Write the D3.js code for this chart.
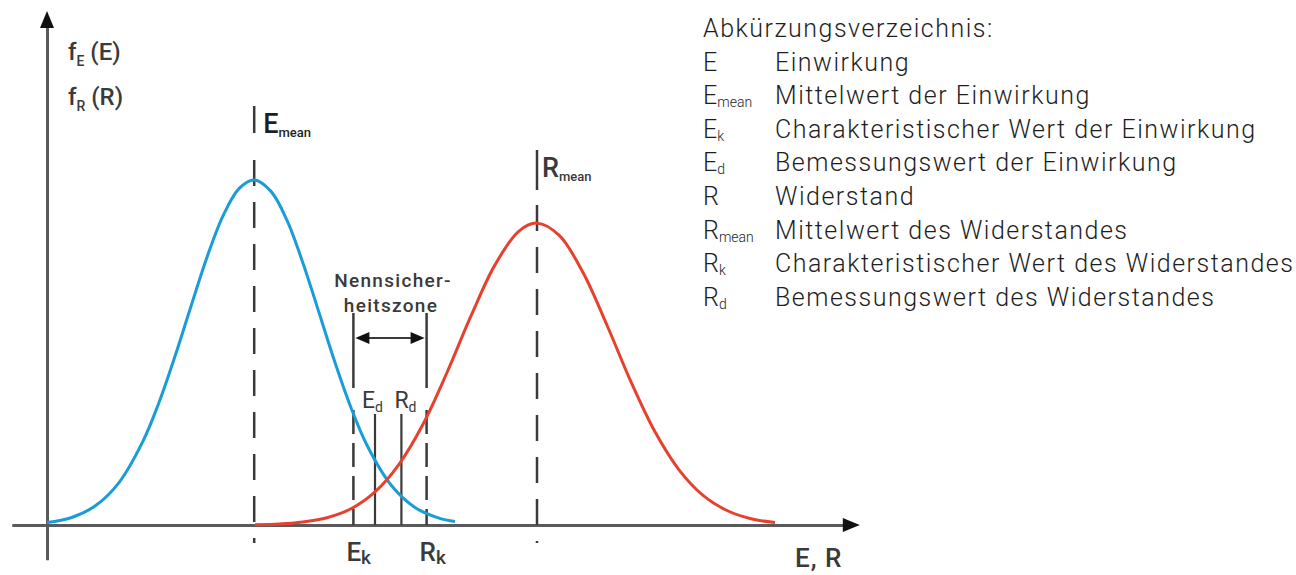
<!DOCTYPE html>
<html>
<head>
<meta charset="utf-8">
<script src="https://cdn.jsdelivr.net/npm/d3@7"></script>
<style>
  body { margin: 0; background: #fff; }
  svg { display: block; font-family: Roboto, "DejaVu Sans", sans-serif; }
</style>
</head>
<body>
<svg id="chart" width="1296" height="575"></svg>
<script>
// curve points (x in E,R units, y = density relative to E peak)
var blueX = [0, 3, 6, 9, 12, 14, 16, 18, 20, 22, 24, 25.9, 28, 30, 32, 34, 36, 38, 40, 43, 46, 49, 51];
var blueY = [0.007, 0.021, 0.055, 0.123, 0.243, 0.355, 0.489, 0.634, 0.776, 0.896, 0.975, 1.0, 0.967, 0.883, 0.759, 0.616, 0.471, 0.340, 0.231, 0.116, 0.051, 0.020, 0.010];

var redX = [26, 29, 32, 35, 38, 41, 44, 47, 50, 53, 56, 59, 61.25, 64, 67, 70, 73, 76, 79, 82, 85, 88, 91];
var redY = [0.001, 0.003, 0.009, 0.021, 0.047, 0.096, 0.176, 0.292, 0.442, 0.606, 0.754, 0.852, 0.875, 0.840, 0.732, 0.579, 0.415, 0.270, 0.160, 0.086, 0.042, 0.018, 0.007];

// marker positions
var meanX = [25.9, 61.25];      // E_mean, R_mean
var charX = [38.3, 47.45];      // E_k, R_k
var designX = [41.0, 44.3];     // E_d, R_d

// legend
var legSym = ["E", "E", "E", "E", "R", "R", "R", "R"];
var legSub = ["", "mean", "k", "d", "", "mean", "k", "d"];
var legText = ["Einwirkung", "Mittelwert der Einwirkung", "Charakteristischer Wert der Einwirkung",
               "Bemessungswert der Einwirkung", "Widerstand", "Mittelwert des Widerstandes",
               "Charakteristischer Wert des Widerstandes", "Bemessungswert des Widerstandes"];

var BLUE = "#1a9cd8";
var RED = "#e6412f";
var GREY = "#5a5a5a";
var DARK = "#3a3a3a";
var TXT = "#1e1e1e";

var svg = d3.select("#chart");

var x = d3.scaleLinear().domain([0, 100]).range([47, 847]);
var y = d3.scaleLinear().domain([0, 1]).range([525, 180]);

// axes (no ticks, just the lines)
var xAxisScale = x.copy().domain([-4.4, 100.4]).range([x(-4.4), x(100.4)]);
var yAxisScale = y.copy().domain([-0.101, 1.45]).range([y(-0.101), y(1.45)]);

svg.append("g")
    .attr("transform", "translate(0," + y(0) + ")")
    .style("color", GREY)
    .style("stroke-width", 3)
    .call(d3.axisBottom(xAxisScale).tickValues([]).tickSizeOuter(0));

svg.append("g")
    .attr("transform", "translate(" + x(0) + ",0)")
    .style("color", GREY)
    .style("stroke-width", 3)
    .call(d3.axisLeft(yAxisScale).tickValues([]).tickSizeOuter(0));

// arrow heads
var xEnd = x(101.6), yTop = y(1.49);
svg.append("path")
    .attr("d", "M" + xEnd + "," + y(0) + " L" + (xEnd - 17) + "," + (y(0) - 7) + " L" + (xEnd - 17) + "," + (y(0) + 7) + "Z")
    .attr("fill", "#111");
svg.append("path")
    .attr("d", "M" + x(0) + "," + yTop + " L" + (x(0) - 7) + "," + (yTop + 17) + " L" + (x(0) + 7) + "," + (yTop + 17) + "Z")
    .attr("fill", "#111");

// mean markers: short solid tick by the label, then dashed line down past the axis
var meanTop = [106, 150], meanTickEnd = [133, 190], meanDashStart = [160, 205];
meanX.forEach(function(v, i) {
    svg.append("line")
        .attr("x1", x(v)).attr("x2", x(v))
        .attr("y1", meanTop[i]).attr("y2", meanTickEnd[i])
        .attr("stroke", DARK).attr("stroke-width", 2.5);
    svg.append("line")
        .attr("x1", x(v)).attr("x2", x(v))
        .attr("y1", meanDashStart[i]).attr("y2", 543)
        .attr("stroke", DARK).attr("stroke-width", 2.5)
        .attr("stroke-dasharray", "26,16");
});

// characteristic values: solid bracket part, then dashed to axis
charX.forEach(function(v) {
    svg.append("line")
        .attr("x1", x(v)).attr("x2", x(v))
        .attr("y1", 313).attr("y2", 388)
        .attr("stroke", DARK).attr("stroke-width", 2.5);
    svg.append("line")
        .attr("x1", x(v)).attr("x2", x(v))
        .attr("y1", 410).attr("y2", y(0))
        .attr("stroke", DARK).attr("stroke-width", 2.5)
        .attr("stroke-dasharray", "24,9");
});

// design values: solid lines
designX.forEach(function(v) {
    svg.append("line")
        .attr("x1", x(v)).attr("x2", x(v))
        .attr("y1", 414).attr("y2", y(0))
        .attr("stroke", DARK).attr("stroke-width", 2.2);
});

// double arrow of the safety zone
var ay = 338;
svg.append("line")
    .attr("x1", x(charX[0]) + 10).attr("x2", x(charX[1]) - 10)
    .attr("y1", ay).attr("y2", ay)
    .attr("stroke", DARK).attr("stroke-width", 2.2);
svg.append("path")
    .attr("d", "M" + (x(charX[0]) + 2) + "," + ay + " l14,-6 l0,12 Z")
    .attr("fill", "#111");
svg.append("path")
    .attr("d", "M" + (x(charX[1]) - 2) + "," + ay + " l-14,-6 l0,12 Z")
    .attr("fill", "#111");

// curves
var line = d3.line()
    .x(function(d) { return x(d[0]); })
    .y(function(d) { return y(d[1]); })
    .curve(d3.curveCatmullRom);

svg.append("path")
    .datum(d3.zip(blueX, blueY))
    .attr("d", line)
    .attr("fill", "none")
    .attr("stroke", BLUE)
    .attr("stroke-width", 3);

svg.append("path")
    .datum(d3.zip(redX, redY))
    .attr("d", line)
    .attr("fill", "none")
    .attr("stroke", RED)
    .attr("stroke-width", 3);

// text with subscript helper
function subText(px, py, main, sub, size, subSize, dy, weight, col, ls) {
    var t = svg.append("text")
        .attr("x", px).attr("y", py)
        .style("font-size", size + "px")
        .style("font-weight", weight)
        .style("letter-spacing", (ls || 0) + "px")
        .style("fill", col);
    t.append("tspan").text(main);
    if (sub) {
        t.append("tspan")
            .attr("dy", dy)
            .style("font-size", subSize + "px")
            .text(sub);
    }
    return t;
}

// axis titles
subText(68, 60, "f", "E", 24, 14, 6, 500, DARK).append("tspan").attr("dy", -6).text(" (E)");
subText(68, 105, "f", "R", 24, 14, 6, 500, DARK).append("tspan").attr("dy", -6).text(" (R)");
svg.append("text")
    .attr("x", 795).attr("y", 567)
    .style("font-size", "26px").style("font-weight", 500).style("fill", DARK)
    .style("letter-spacing", "1px")
    .text("E, R");

// marker labels
subText(x(meanX[0]) + 9, 133, "E", "mean", 27, 13, 4, 500, TXT);
subText(x(meanX[1]) + 5, 177, "R", "mean", 27, 13, 4, 500, DARK);
subText(x(charX[0]) - 7, 561, "E", "k", 26, 19, 3, 500, DARK);
subText(x(charX[1]) - 7, 561, "R", "k", 26, 19, 3, 500, DARK);
subText(x(designX[0]) - 13, 408, "E", "d", 23, 14, 4, 400, DARK);
subText(x(designX[1]) - 7, 408, "R", "d", 23, 14, 4, 400, DARK);

svg.append("text")
    .attr("x", 393).attr("y", 287)
    .attr("text-anchor", "middle")
    .style("font-size", "19px").style("font-weight", 500).style("fill", DARK)
    .style("letter-spacing", "1.3px")
    .text("Nennsicher-");
svg.append("text")
    .attr("x", 391).attr("y", 312)
    .attr("text-anchor", "middle")
    .style("font-size", "19px").style("font-weight", 500).style("fill", DARK)
    .style("letter-spacing", "1.3px")
    .text("heitszone");

// legend
var legX0 = 703, legX1 = 775, legY0 = 37, legStep = 33.6, legSize = 25, legLs = 1.5;
svg.append("text")
    .attr("x", legX0).attr("y", legY0)
    .style("font-size", legSize + "px").style("font-weight", 300).style("fill", TXT)
    .style("letter-spacing", legLs + "px")
    .text("Abkürzungsverzeichnis:");

legText.forEach(function(s, i) {
    var yy = legY0 + legStep * (i + 1);
    subText(legX0, yy, legSym[i], legSub[i], legSize, 14, 3, 300, TXT, 0);
    svg.append("text")
        .attr("x", legX1).attr("y", yy)
        .style("font-size", legSize + "px").style("font-weight", 300).style("fill", TXT)
        .style("letter-spacing", legLs + "px")
        .text(s);
});
</script>
</body>
</html>
